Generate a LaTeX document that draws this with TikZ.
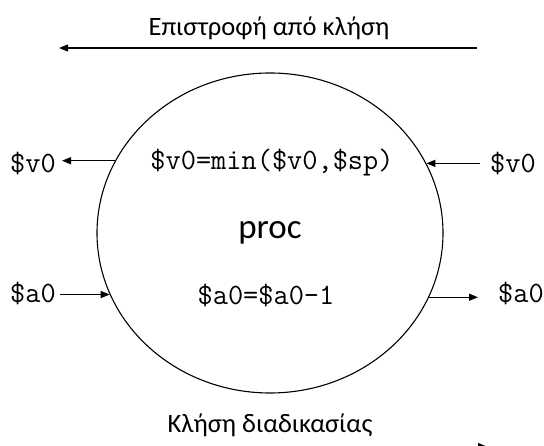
\documentclass[tikz,border=0pt]{standalone}
\usepackage{fontspec}
\setmainfont{Carlito}
\usetikzlibrary{arrows.meta,shapes.geometric}
\begin{document}
\begin{tikzpicture}[x=1pt,y=-1pt,
  mono/.style={font=\fontsize{29.5}{33}\selectfont\ttfamily, inner sep=0pt},
  greek/.style={font=\fontsize{26.5}{30}\selectfont, inner sep=0pt},
  conn/.style={line width=1.3pt, -{Triangle[length=9pt,width=7pt]}}]
\useasboundingbox (0,0) rectangle (544,446);
\node[draw, ellipse, line width=1.1pt, minimum width=346pt, minimum height=320pt,
      inner sep=0pt, font=\fontsize{35}{40}\selectfont] (proc) at (270,233) {proc};
% texts
\node[greek, anchor=base] (ret) at (269,36) {Επιστροφή από κλήση};
\node[greek, anchor=base] (call) at (270,433) {Κλήση διαδικασίας};
\node[mono] (vin) at (272,163) {\$v0=min(\$v0,\$sp)};
\node[mono] (ain) at (266,295) {\$a0=\$a0-1};
\node[mono, anchor=east] (vleft) at (56,163) {\$v0};
\node[mono, anchor=west] (vright) at (490,163) {\$v0};
\node[mono, anchor=east] (aleft) at (56,293) {\$a0};
\node[mono, anchor=east] (aright) at (544,293) {\$a0};
% helper coordinates
\coordinate (vlt) at (62,163);
\coordinate (vrt) at (480,163);
\coordinate (alt) at (60,296);
\coordinate (art) at (478,296);
\coordinate (ts) at (477,48);
\coordinate (te) at (59,48);
\coordinate (bs) at (160,448);
\coordinate (be) at (490,448);
% connectors
\draw[conn] (ts) -- (te);
\draw[conn, -{Triangle[length=12pt,width=10pt]}] (bs) -- (be);
\draw[conn] (proc.155.8) -- (proc.155.8 -| vlt);
\draw[conn] (proc.24.3 -| vrt) -- (proc.24.3);
\draw[conn] (alt |- proc.201.6) -- (proc.201.6);
\draw[conn] (proc.338.4) -- (proc.338.4 -| art);
\end{tikzpicture}
\end{document}
